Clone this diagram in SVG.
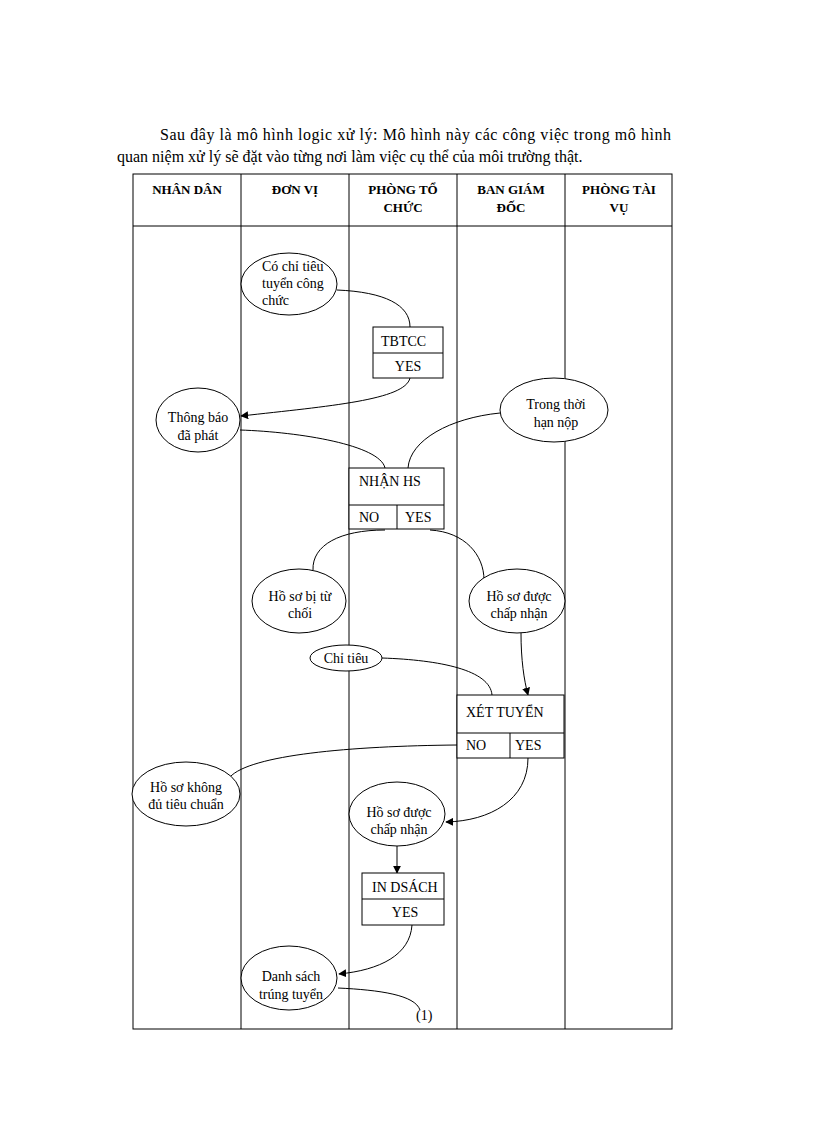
<svg xmlns="http://www.w3.org/2000/svg" width="816" height="1123" viewBox="0 0 816 1123">
<style>
text{font-family:"Liberation Serif",serif;font-size:14px;fill:#000}
.h{font-weight:bold;font-size:13px;text-anchor:middle}
.c{text-anchor:middle}
.p{font-size:16px}
.s{fill:#fff;stroke:#000;stroke-width:1}
.l{fill:none;stroke:#000;stroke-width:1}
</style>
<defs><marker id="a" viewBox="0 0 10 10" refX="9" refY="5" markerWidth="8" markerHeight="8" orient="auto" markerUnits="userSpaceOnUse"><path d="M0,0L10,5L0,10z"/></marker></defs>
<rect width="816" height="1123" fill="#fff"/>
<text class="p" x="160" y="140" textLength="511" lengthAdjust="spacing">Sau đây là mô hình  logic xử lý: Mô hình này các công việc trong mô hình</text>
<text class="p" x="117" y="162">quan niệm xử lý sẽ đặt vào từng nơi làm việc cụ thể của môi trường thật.</text>
<g id="table">
<rect class="l" x="133" y="174" width="539" height="855" stroke-width="1.5"/>
<line class="l" x1="133" y1="226" x2="672" y2="226" stroke-width="1.5"/>
<line class="l" x1="241" y1="174" x2="241" y2="1029"/>
<line class="l" x1="349" y1="174" x2="349" y2="1029"/>
<line class="l" x1="457" y1="174" x2="457" y2="1029"/>
<line class="l" x1="565" y1="174" x2="565" y2="1029"/>
<text class="h" x="187" y="194">NHÂN DÂN</text>
<text class="h" x="295" y="194">ĐƠN VỊ</text>
<text class="h" x="403" y="194">PHÒNG TỔ</text><text class="h" x="403" y="212">CHỨC</text>
<text class="h" x="511" y="194">BAN GIÁM</text><text class="h" x="511" y="212">ĐỐC</text>
<text class="h" x="619" y="194">PHÒNG TÀI</text><text class="h" x="619" y="212">VỤ</text>
</g>
<g id="connectors">
<path class="l" d="M337,290 C385,292 410,305 410,327"/>
<path class="l" d="M410,378 C405,400 330,406 241,416" marker-end="url(#a)"/>
<path class="l" d="M240,430 C300,432 380,445 385,468"/>
<path class="l" d="M500,413 C450,418 410,440 408,468"/>
<path class="l" d="M385,530 C340,530 312,545 313,570"/>
<path class="l" d="M430,530 C465,532 484,555 484,580"/>
<path class="l" d="M521,633 C521,660 524,680 528,695" marker-end="url(#a)"/>
<path class="l" d="M382,658 C440,660 490,670 492,695"/>
<path class="l" d="M457,745 C350,746 250,755 230,777"/>
<path class="l" d="M528,758 C528,800 490,821 446,822" marker-end="url(#a)"/>
<path class="l" d="M397,846 L397,873" marker-end="url(#a)"/>
<path class="l" d="M412,925 C410,955 380,970 339,974" marker-end="url(#a)"/>
<path class="l" d="M338,988 C380,990 415,995 420,1010"/>
</g>
<g id="n1"><ellipse class="s" cx="289" cy="284" rx="48" ry="31"/><text x="262" y="271">Có chỉ tiêu</text><text x="262" y="288">tuyển công</text><text x="262" y="305">chức</text></g>
<g id="n2"><rect class="s" x="373" y="327" width="70" height="51"/><line class="l" x1="373" y1="353" x2="443" y2="353"/><text x="381" y="346">TBTCC</text><text class="c" x="408" y="371">YES</text></g>
<g id="n3"><ellipse class="s" cx="198" cy="420" rx="42" ry="32"/><text class="c" x="198" y="422">Thông báo</text><text class="c" x="198" y="440">đã phát</text></g>
<g id="n4"><ellipse class="s" cx="554" cy="410" rx="54" ry="32"/><text class="c" x="556" y="409">Trong thời</text><text class="c" x="556" y="427">hạn nộp</text></g>
<g id="n5"><rect class="s" x="349" y="468" width="95" height="61"/><line class="l" x1="349" y1="505" x2="444" y2="505"/><line class="l" x1="397" y1="505" x2="397" y2="529"/><text x="359" y="486">NHẬN HS</text><text x="359" y="522">NO</text><text x="405" y="522">YES</text></g>
<g id="n6"><ellipse class="s" cx="299" cy="601" rx="47" ry="32"/><text class="c" x="300" y="601">Hồ sơ bị từ</text><text class="c" x="300" y="618">chối</text></g>
<g id="n7"><ellipse class="s" cx="517" cy="601" rx="48" ry="32"/><text class="c" x="519" y="601">Hồ sơ được</text><text class="c" x="519" y="618">chấp  nhận</text></g>
<g id="n8"><ellipse class="s" cx="346" cy="658" rx="36" ry="13"/><text class="c" x="346" y="663">Chỉ tiêu</text></g>
<g id="n9"><rect class="s" x="457" y="695" width="107" height="63"/><line class="l" x1="457" y1="733" x2="564" y2="733"/><line class="l" x1="510" y1="733" x2="510" y2="758"/><text x="466" y="717">XÉT TUYỂN</text><text x="466" y="750">NO</text><text x="515" y="750">YES</text></g>
<g id="n10"><ellipse class="s" cx="186" cy="794" rx="54" ry="32"/><text class="c" x="186" y="792">Hồ sơ không</text><text class="c" x="186" y="809">đủ tiêu chuẩn</text></g>
<g id="n11"><ellipse class="s" cx="397" cy="814" rx="48" ry="32"/><text class="c" x="399" y="817">Hồ sơ được</text><text class="c" x="399" y="834">chấp nhận</text></g>
<g id="n12"><rect class="s" x="362" y="873" width="82" height="52"/><line class="l" x1="362" y1="899" x2="444" y2="899"/><text x="372" y="892">IN DSÁCH</text><text class="c" x="405" y="917">YES</text></g>
<g id="n13"><ellipse class="s" cx="289" cy="978" rx="48" ry="32"/><text class="c" x="291" y="981">Danh sách</text><text class="c" x="291" y="999">trúng tuyển</text></g>
<text x="416" y="1020" font-size="12">(1)</text>
</svg>
